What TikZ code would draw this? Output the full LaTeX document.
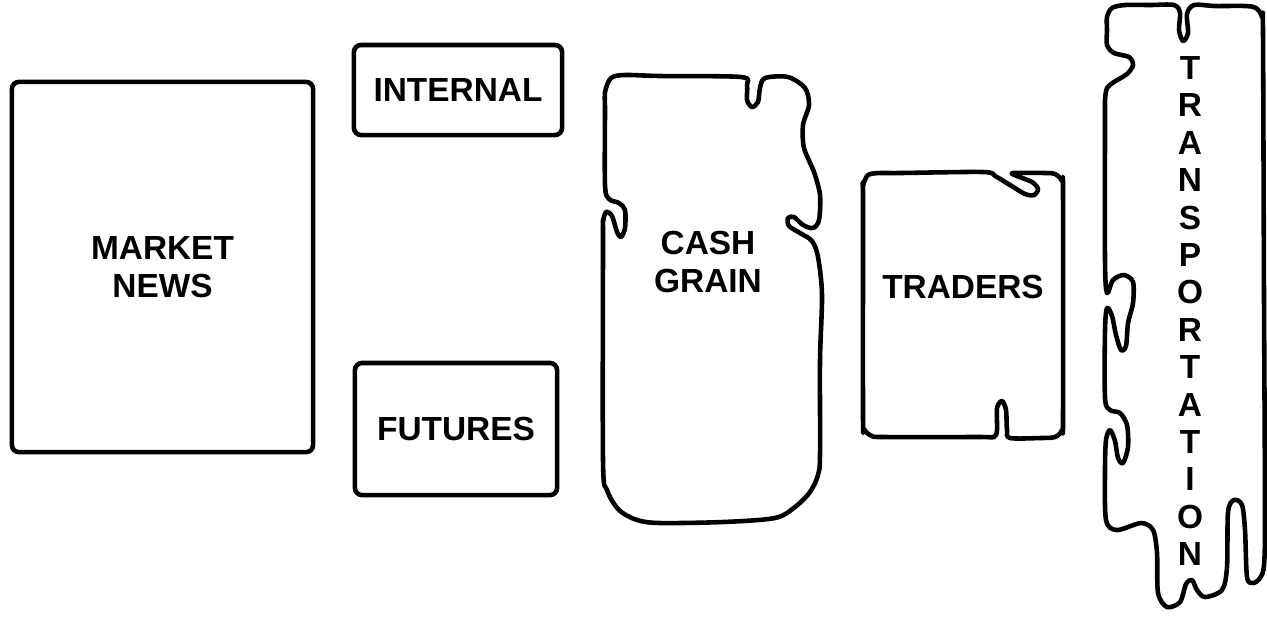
\documentclass[tikz,border=0pt]{standalone}
\usepackage{fontspec}
\setmainfont{Liberation Sans}
\usepackage{tikz}
\usetikzlibrary{positioning}

\begin{document}
\begin{tikzpicture}[x=0.01cm, y=-0.01cm,
  box/.style={rectangle, draw, line width=1.3pt, rounded corners=2pt, inner sep=0pt,
    align=center, font=\fontsize{9.5}{10.8}\selectfont\bfseries},
  blob/.style={draw, line width=1.3pt, line join=round},
  lbl/.style={align=center, inner sep=0pt, font=\fontsize{9.5}{10.8}\selectfont\bfseries}
]
\useasboundingbox (0,0) rectangle (1267,620);

% Plain boxes
\node[box, minimum width=3.01cm, minimum height=3.70cm] (news)     at (162.5,267) {MARKET\\NEWS};
\node[box, minimum width=2.08cm, minimum height=0.90cm] (internal) at (458,90)    {INTERNAL};
\node[box, minimum width=2.02cm, minimum height=1.32cm] (futures)  at (456,429)   {FUTURES};

% Cash grain
\draw[blob] plot[smooth cycle, tension=0.5] coordinates {
  (605,92) (611,78) (625,75) (660,76) (741,77) (747,85) (747,100) (752,107) (758,102) (760,88)
  (765,78) (788,77) (805,88) (809,105) (803,125) (804,148) (814,172) (820,195) (819,220)
  (813,228) (803,225) (794,217) (788,218) (789,226) (800,233) (812,241) (818,257)
  (822,295) (820,360) (820,455) (818,475) (810,492) (795,507) (775,518) (723,522)
  (660,523) (637,520) (619,510) (607,490) (603,460) (603,240) (603,222) (606,212) (612,216)
  (617,232) (621,237) (625,228) (625,210) (619,203) (609,199) (605,185) (605,110)};
\node[lbl] (cash) at (708,262) {CASH\\GRAIN};

% Traders
\draw[blob] plot[smooth cycle, tension=0.5] coordinates {
  (863,186) (868,175) (880,173) (900,173) (983,172) (995,176) (1010,185) (1025,194) (1034,195)
  (1038,189) (1032,182) (1017,176) (1013,173) (1045,173) (1055,174) (1062,181) (1063,195)
  (1063,415) (1062,430) (1055,437) (1040,438) (1010,438) (1007,430) (1006,410) (1002,401)
  (997,408) (997,430) (994,437) (980,437) (885,437) (872,436) (864,429) (863,415) (863,200)};
\node[lbl] (traders) at (963,287) {TRADERS};

% Transportation
\draw[blob] plot[smooth cycle, tension=0.5] coordinates {
  (1107,17) (1112,8) (1125,5) (1150,5) (1174,5) (1180,13) (1179,30) (1183,41) (1188,33)
  (1187,14) (1194,5) (1215,6) (1245,6) (1256,8) (1262,17) (1263,35) (1264,300)
  (1265,513) (1264,565) (1260,578) (1253,583)
  (1247,577) (1245,530) (1242,505) (1234,500) (1228,512) (1227,567) (1222,590)
  (1205,597) (1197,590) (1192,580) (1186,584) (1180,602) (1167,607) (1158,593)
  (1157,553) (1153,530) (1141,523) (1117,530) (1106,520) (1105,470) (1106,440)
  (1110,430) (1115,441) (1118,458) (1123,463) (1128,447) (1127,425) (1120,413)
  (1110,410) (1105,398) (1105,330) (1107,308) (1112,316) (1116,335) (1121,350)
  (1126,346) (1128,323) (1133,303) (1133,282) (1124,275) (1113,280) (1107,293)
  (1105,260) (1105,115) (1105,100) (1107,88) (1114,82) (1127,74) (1133,65) (1129,57)
  (1114,53) (1107,45) (1107,30)};
\foreach \ch [count=\i from 0] in {T,R,A,N,S,P,O,R,T,A,T,I,O,N}
  \node[lbl] (trans\i) at (1190,68+37.4*\i) {\ch};

\end{tikzpicture}
\end{document}
